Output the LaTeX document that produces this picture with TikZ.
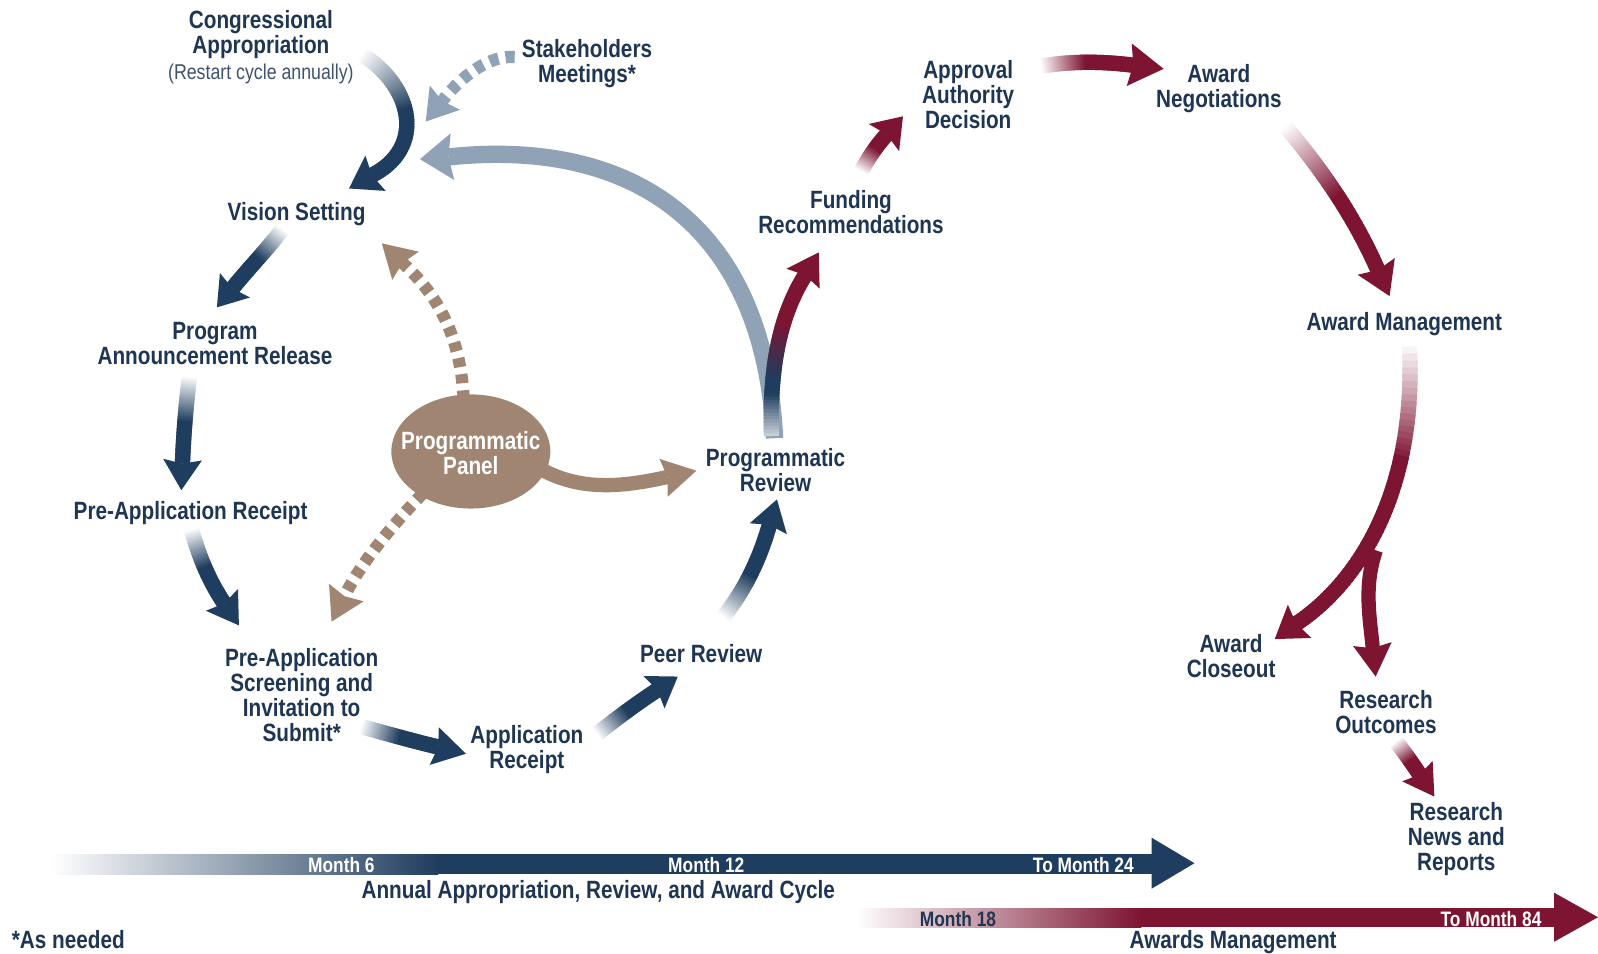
\documentclass[tikz,border=0pt]{standalone}
\usepackage{fontspec}
\setmainfont{Liberation Sans}[FakeStretch=0.83]
\usetikzlibrary{calc,shapes.geometric}
\definecolor{navytxt}{HTML}{1E3553}
\definecolor{navyc}{HTML}{1F3D5E}
\definecolor{maroonc}{HTML}{7D1432}
\definecolor{steelc}{HTML}{8FA2B6}
\definecolor{panelc}{HTML}{A08672}
\newcommand\lblfont{\fontsize{24.5}{24.5}\selectfont\bfseries}
\newcommand\smallfont{\fontsize{21}{22}\selectfont}
\newcommand\barfont{\fontsize{20.5}{22}\selectfont\bfseries}
\newcommand\gsteps{60}
% head: P0 P1 P2 P3 color length width
\newcommand\ghead[7]{%
  \path #1 .. controls #2 and #3 .. #4 coordinate[pos=0.95] (gt) coordinate[pos=1] (ge);%
  \pgfmathsetmacro\ghw{#7/2}%
  \pgfmathsetmacro\ghl{#6-4}%
  \coordinate (gk) at ($(ge)!4pt!(gt)$);%
  \fill[#5] ($(gk)!\ghw pt!90:(gt)$) -- ($(ge)!\ghl pt!180:(gt)$) -- ($(gk)!\ghw pt!-90:(gt)$) -- (ge) -- cycle;%
}
% gradient arrow: P0 P1 P2 P3 color width fade headlength headwidth
\newcommand\garrow[9]{%
  \foreach \gi in {1,...,\gsteps}{%
    \pgfmathsetmacro\gta{(\gi-1)/\gsteps}%
    \pgfmathsetmacro\gtb{min(1,(\gi+0.7)/\gsteps)}%
    \pgfmathtruncatemacro\gpc{min(100,100*\gi/\gsteps/#7)}%
    \path #1 .. controls #2 and #3 .. #4 coordinate[pos=\gta] (ga) coordinate[pos=\gtb] (gb);%
    \draw[line width=#6pt, draw=#5!\gpc!white] (ga) -- (gb);%
  }%
  \ghead{#1}{#2}{#3}{#4}{#5}{#8}{#9}%
}
% dashed arrow: P0 P1 P2 P3 color headlength headwidth
\newcommand\darrow[7]{%
  \draw[#5, line width=12pt, dash pattern=on 9pt off 7pt] #1 .. controls #2 and #3 .. #4;%
  \ghead{#1}{#2}{#3}{#4}{#5}{#6}{#7}%
}
% solid arrow: P0 P1 P2 P3 color width headlength headwidth
\newcommand\sarrow[8]{%
  \draw[#5, line width=#6pt] #1 .. controls #2 and #3 .. #4;%
  \ghead{#1}{#2}{#3}{#4}{#5}{#7}{#8}%
}
\begin{document}
\begin{tikzpicture}[x=1pt,y=-1pt,
  lbl/.style={font=\lblfont, text=navytxt, align=center, inner sep=0pt},
  wlbl/.style={font=\barfont, text=white, inner sep=0pt}]
\fill[white] (0,0) rectangle (1568,936);
\useasboundingbox (0,0) rectangle (1568,936);

% ---------- arrows ----------
\sarrow{(760,430)}{(750,220)}{(620,135)}{(440,154)}{steelc}{17}{32}{46}
\garrow{(356,54)}{(405,85)}{(418,145)}{(365,172)}{navyc}{15}{0.45}{30}{40}
\darrow{(505,56)}{(482,54)}{(455,72)}{(434,99)}{steelc}{30}{38}
\garrow{(277,225)}{(262,245)}{(245,262)}{(228,283)}{navyc}{15}{0.5}{28}{38}
\garrow{(186,370)}{(182,400)}{(180,430)}{(179,455)}{navyc}{15}{0.5}{30}{38}
\garrow{(188,520)}{(195,545)}{(205,570)}{(220,592)}{navyc}{15}{0.5}{30}{38}
\garrow{(355,713)}{(380,720)}{(405,727)}{(430,733)}{navyc}{15}{0.5}{32}{38}
\garrow{(586,720)}{(605,705)}{(625,690)}{(645,677)}{navyc}{15}{0.5}{28}{38}
\garrow{(710,605)}{(730,580)}{(745,550)}{(755,515)}{navyc}{15}{0.5}{30}{38}
% programmatic review -> funding (blue to maroon)
\foreach \gi in {1,...,\gsteps}{%
  \pgfmathsetmacro\gta{(\gi-1)/\gsteps}%
  \pgfmathsetmacro\gtb{min(1,(\gi+0.7)/\gsteps)}%
  \pgfmathtruncatemacro\gpa{min(100,20+80*\gi/\gsteps/0.22)}%
  \pgfmathtruncatemacro\gpb{max(0,min(100,100*(\gi/\gsteps-0.3)/0.35))}%
  \path (757,428) .. controls (755,360) and (765,310) .. (790,270) coordinate[pos=\gta] (ga) coordinate[pos=\gtb] (gb);%
  \draw[line width=15pt, draw=maroonc!\gpb!navyc!\gpa!white] (ga) -- (gb);%
}
\ghead{(757,428)}{(755,360)}{(765,310)}{(790,270)}{maroonc}{30}{38}
\garrow{(845,168)}{(852,155)}{(860,143)}{(870,132)}{maroonc}{15}{0.6}{28}{40}
\garrow{(1022,65)}{(1050,60)}{(1080,60)}{(1112,64)}{maroonc}{15}{0.5}{34}{42}
\garrow{(1262,125)}{(1300,170)}{(1330,215)}{(1352,265)}{maroonc}{15}{0.5}{32}{40}
\sarrow{(1350,540)}{(1338,575)}{(1344,605)}{(1347,636)}{maroonc}{14}{32}{38}
\garrow{(1383,340)}{(1390,480)}{(1335,570)}{(1272,612)}{maroonc}{15}{0.3}{30}{40}
\garrow{(1370,728)}{(1378,738)}{(1385,748)}{(1393,760)}{maroonc}{15}{0.6}{30}{36}
% panel arrows
\darrow{(455,392)}{(452,330)}{(430,290)}{(395,258)}{panelc}{32}{38}
\darrow{(415,484)}{(390,510)}{(355,550)}{(338,585)}{panelc}{32}{38}
\sarrow{(530,460)}{(570,482)}{(610,478)}{(655,468)}{panelc}{14}{33}{38}

% ---------- panel ----------
\node[ellipse, fill=panelc, minimum width=156pt, minimum height=112pt, inner sep=0pt] (panel) at (462,443) {};
\node[lbl, text=white] (paneltxt) at (462,445) {Programmatic\\Panel};

% ---------- labels ----------
\node[lbl] (cong) at (256,34) {Congressional\\Appropriation};
\node[font=\smallfont, text=navytxt!85, inner sep=0pt] (restart) at (256,73) {(Restart cycle annually)};
\node[lbl] (stake) at (576,62) {Stakeholders\\Meetings*};
\node[lbl] (vision) at (291,210) {Vision Setting};
\node[lbl] (progann) at (211,337) {Program\\Announcement Release};
\node[lbl] (prerec) at (187,503) {Pre-Application Receipt};
\node[lbl] (screen) at (296,682) {Pre-Application\\Screening and\\Invitation to\\Submit*};
\node[lbl] (apprec) at (517,735) {Application\\Receipt};
\node[lbl] (peer) at (688,641) {Peer Review};
\node[lbl] (progrev) at (761,461) {Programmatic\\Review};
\node[lbl] (funding) at (835,208) {Funding\\Recommendations};
\node[lbl] (approval) at (950,93) {Approval\\Authority\\Decision};
\node[lbl] (awardneg) at (1196,87) {Award\\Negotiations};
\node[lbl] (awardmgmt) at (1378,318) {Award Management};
\node[lbl] (closeout) at (1208,644) {Award\\Closeout};
\node[lbl] (outcomes) at (1360,699) {Research\\Outcomes};
\node[lbl] (news) at (1429,823) {Research\\News and\\Reports};

% ---------- timeline bars ----------
\shade[left color=white, right color=navyc] (50,838) rectangle (430,858);
\fill[navyc] (429,838) rectangle (1131,858);
\fill[navyc] (1130,822) -- (1172,847) -- (1130,872) -- cycle;
\node[wlbl] (m6) at (335,849) {Month 6};
\node[wlbl] (m12) at (693,849) {Month 12};
\node[wlbl] (m24) at (1063,849) {To Month 24};
\node[lbl] (annual) at (587,875) {Annual Appropriation, Review, and Award Cycle};

\shade[left color=white, right color=maroonc] (840,891) rectangle (1120,910);
\fill[maroonc] (1119,891) rectangle (1526,910);
\fill[maroonc] (1525,876) -- (1568,900) -- (1525,924) -- cycle;
\node[wlbl, text=navytxt] (m18) at (940,902) {Month 18};
\node[wlbl] (m84) at (1463,902) {To Month 84};
\node[lbl] (awmg) at (1210,924) {Awards Management};
\node[lbl] (asneeded) at (67,922) {*As needed};
\end{tikzpicture}
\end{document}
